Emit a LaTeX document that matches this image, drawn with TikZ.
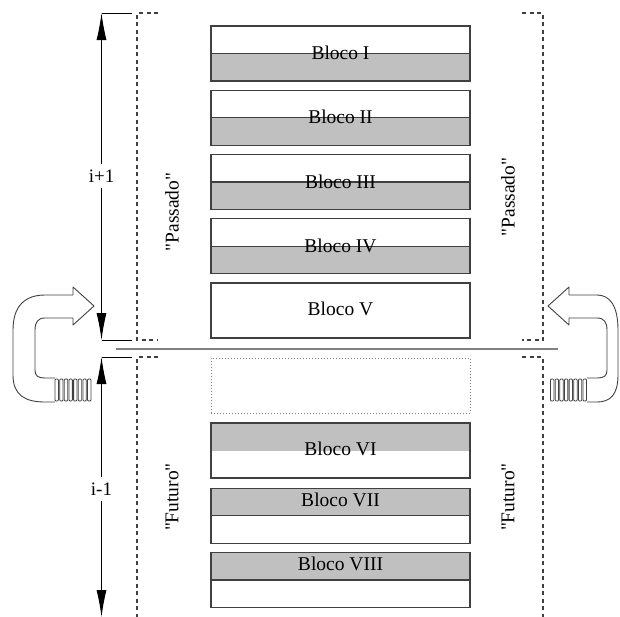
\documentclass[tikz,border=0pt]{standalone}
\usepackage{fontspec}
\setmainfont{Liberation Serif}
\newfontfamily\rawserif{Liberation Serif}[Ligatures=TeXOff]
\usetikzlibrary{arrows.meta}
\definecolor{blkgray}{RGB}{192,192,192}
\definecolor{edgec}{RGB}{64,64,64}
\definecolor{dashc}{RGB}{64,64,64}
\definecolor{midc}{RGB}{128,128,128}
\begin{document}
\begin{tikzpicture}[x=1pt,y=-1pt,
  blk/.style={draw=edgec, line width=1.2pt, minimum width=259pt, minimum height=55pt, inner sep=0pt, outer sep=0pt},
  lowgray/.style={blk, path picture={\fill[blkgray] (path picture bounding box.west) rectangle (path picture bounding box.south east);
      \draw[edgec,line width=1.2pt] (path picture bounding box.west) -- (path picture bounding box.east);}},
  upgray/.style={blk, path picture={\fill[blkgray] (path picture bounding box.west) rectangle (path picture bounding box.north east);
      \draw[edgec,line width=1.2pt] (path picture bounding box.west) -- (path picture bounding box.east);}},
  upgraynl/.style={blk, path picture={\fill[blkgray] ([yshift=-0.5pt]path picture bounding box.west) rectangle (path picture bounding box.north east);}},
  dotbox/.style={draw=midc, dash pattern=on 1pt off 2pt, line width=0.8pt, minimum width=259pt, minimum height=55pt, inner sep=0pt},
  txt/.style={font=\fontsize{19.5}{22}\selectfont, inner sep=0pt, anchor=base},
  side/.style={font=\rawserif\fontsize{19.5}{22}\selectfont, inner sep=0pt, rotate=90, anchor=center},
  lbl/.style={font=\fontsize{19}{22}\selectfont, fill=white, inner xsep=2pt, inner ysep=6pt},
  arr/.style={line width=0.9pt, {Latex[length=27pt,width=10pt]}-{Latex[length=27pt,width=10pt]}},
  tick/.style={line width=0.9pt},
  dsh/.style={draw=dashc, line width=1.2pt, dash pattern=on 4pt off 3.5pt},
  midl/.style={draw=midc, line width=2pt},
  band/.style={draw=edgec, line width=0.9pt, line join=round},
  coil/.style={draw=edgec, line width=0.8pt, rounded corners=1pt}
]
\useasboundingbox (0,0) rectangle (620,616);

% upper blocks
\node[lowgray] (b1) at (340.5,53.5) {};
\node[lowgray] (b2) at (340.5,117.75) {};
\node[lowgray] (b3) at (340.5,182) {};
\node[lowgray] (b4) at (340.5,246.25) {};
\node[blk] (b5) at (340.5,310.5) {};
\node[txt] (t1) at (340.5,59.5) {Bloco I};
\node[txt] (t2) at (340.5,123.75) {Bloco II};
\node[txt] (t3) at (340.5,188) {Bloco III};
\node[txt] (t4) at (340.5,252.25) {Bloco IV};
\node[txt] (t5) at (340.5,315.7) {Bloco V};

% lower blocks
\node[dotbox] (b0) at (340.5,385.5) {};
\node[upgraynl] (b6) at (340.5,450.5) {};
\node[upgray] (b7) at (340.5,515.8) {};
\node[upgray] (b8) at (340.5,580) {};
\node[txt] (t6) at (340.5,455.7) {Bloco VI};
\node[txt] (t7) at (340.5,506.7) {Bloco VII};
\node[txt] (t8) at (340.5,570.7) {Bloco VIII};

% middle line
\coordinate (ml) at (116,349);
\coordinate (mr) at (558,349);
\draw[midl] (ml) -- (mr);

% dimension arrows
\coordinate (a1t) at (101.5,13);
\coordinate (a1b) at (101.5,340);
\coordinate (a2t) at (101.5,357);
\coordinate (a2b) at (101.5,617);
\coordinate (h1) at (131.5,13);
\coordinate (h2) at (131.5,340);
\coordinate (h3) at (131.5,357);
\draw[tick] (a1t) -- (h1);
\draw[tick] (a1b) -- (h2);
\draw[tick] (a2t) -- (h3);
\draw[arr] (a1t) -- (a1b);
\draw[arr] (a2t) -- (a2b);
\node[lbl] (l1) at (101.5,176) {i+1};
\node[lbl] (l2) at (101.5,489) {i-1};

% dashed brackets
\draw[dsh] (158,13) -- (137,13) -- (137,340) -- (158,340);
\draw[dsh] (158,357) -- (137,357) -- (137,618);
\draw[dsh] (522,13) -- (543,13) -- (543,340) -- (522,340);
\draw[dsh] (522,357) -- (543,357) -- (543,618);

% side texts
\node[side] (p1) at (172,212) {"Passado"};
\node[side] (p2) at (508,197) {"Passado"};
\node[side] (f1) at (172,497) {"Futuro"};
\node[side] (f2) at (508,497) {"Futuro"};

% left curved arrow
\draw[band] (55,402) -- (45,402) .. controls (25,402) and (13,395) .. (13,375) -- (13,330)
  .. controls (13,306) and (25,295) .. (45,295) -- (73,295) -- (73,287) -- (94,306) -- (73,325) -- (73,318)
  -- (45,318) .. controls (38,318) and (35,322) .. (35,330) -- (35,370)
  .. controls (35,376) and (38,378) .. (45,378) -- (55,378);
\foreach \k in {0,...,7} \draw[coil] ({55+4.65*\k},379) rectangle ++(3.4,22);

% right curved arrow
\draw[band] (587,402) -- (597,402) .. controls (610,402) and (618,395) .. (618,375) -- (618,330)
  .. controls (618,306) and (610,295) .. (597,295) -- (569,295) -- (569,287) -- (548,306) -- (569,325) -- (569,318)
  -- (597,318) .. controls (604,318) and (607,322) .. (607,330) -- (607,370)
  .. controls (607,376) and (604,378) .. (597,378) -- (587,378);
\foreach \k in {0,...,7} \draw[coil] ({550.5+4.65*\k},379) rectangle ++(3.4,22);
\end{tikzpicture}
\end{document}
